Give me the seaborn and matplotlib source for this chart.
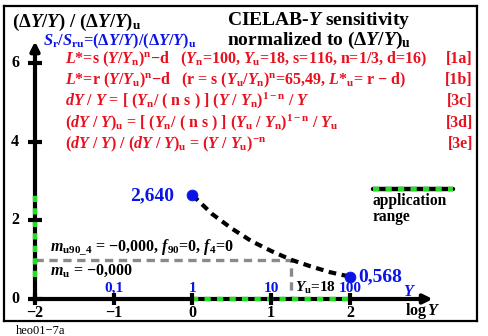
import numpy as np
import pandas as pd
import matplotlib
matplotlib.use("Agg")
import matplotlib.pyplot as plt
import seaborn as sns

# ---------------- data ----------------
x_ticks = [-2, -1, 0, 1, 2]
x_tick_labels = ["\u22122", "\u22121", "0", "1", "2"]
y_ticks = [0, 2, 4, 6]
y_tick_labels = ["0", "2", "4", "6"]
Y_pos = [-1, 0, 1, 2]
Y_labels = ["0,1", "1", "10", "100"]
curve_logY = [0.0, 0.25, 0.5, 0.75, 1.0, 1.25, 1.5, 1.75, 2.0]
curve_ratio = [2.640, 2.16, 1.79, 1.47, 1.22, 1.00, 0.83, 0.68, 0.568]
end_logY = [0, 2]
end_ratio = [2.640, 0.568]
end_labels = ["2,640", "0,568"]
Yu = 18
m_level = 1.0
app_range_x = [0, 2]

RED = "#e8101e"
BLUE = "#0a14e6"
GREEN = "#22e022"
GRAY = "#8a8a8a"

sns.set_theme(style="white")
plt.rcParams["font.family"] = ["Liberation Serif", "DejaVu Serif"]
plt.rcParams["font.weight"] = "bold"
plt.rcParams["mathtext.fontset"] = "custom"
plt.rcParams["mathtext.rm"] = "Liberation Serif:bold"
plt.rcParams["mathtext.it"] = "Liberation Serif:italic:bold"
plt.rcParams["mathtext.bf"] = "Liberation Serif:bold"
plt.rcParams["lines.scale_dashes"] = False

W, H = 489, 336
fig = plt.figure(figsize=(W / 100, H / 100), dpi=100)
L, R, T, B = 4, 477, 6, 321
ax = fig.add_axes([L / W, (H - B) / H, (R - L) / W, (B - T) / H])
x0px, xs = 192.5, 78.75
y0px, ys = 299, 39.33
ax.set_xlim((L - x0px) / xs, (R - x0px) / xs)
ax.set_ylim((y0px - B) / ys, (y0px - T) / ys)
ax.set_xticks([])
ax.set_yticks([])
for s in ax.spines.values():
    s.set_linewidth(1.6)
    s.set_color("black")


def px(x, y):
    return (x / W, 1 - y / H)


def ftext(x, y, s, **kw):
    kw.setdefault("va", "baseline")
    fig.text(*px(x, y), s, **kw)


# axes with arrows
ax.annotate("", xy=(-2, 6.55), xytext=(-2, 0), arrowprops=dict(arrowstyle="-|>", lw=3, color="black", mutation_scale=13, shrinkA=0, shrinkB=0))
ax.annotate("", xy=(3.05, 0), xytext=(-2.04, 0), arrowprops=dict(arrowstyle="-|>", lw=3, color="black", mutation_scale=13, shrinkA=0, shrinkB=0))
# tick marks
ax.plot([-2] * len(y_ticks), y_ticks, ls="none", marker="_", ms=10, mew=3, color="black", zorder=4)
ax.plot(x_ticks, [0] * len(x_ticks), ls="none", marker="|", ms=9, mew=3, color="black", zorder=4)

# application range (green/black dashes)
ax.plot(app_range_x, [0, 0], color=GREEN, lw=3.2, ls=(0, (4.5, 4.5)), solid_capstyle="butt", zorder=3.5)
ax.plot([-2, -2], [min(end_ratio), max(end_ratio)], color=GREEN, lw=3.2, ls=(0, (4.5, 4.5)), zorder=3.5)

# gray dashed level lines
logYu = np.log10(Yu)
ax.plot([-2, logYu, logYu], [m_level, m_level, 0.08], color=GRAY, lw=2.4, ls=(0, (6, 4)))

# curve
df = pd.DataFrame({"logY": curve_logY, "ratio": curve_ratio})
sns.lineplot(data=df, x="logY", y="ratio", ax=ax, color="black", lw=3, linestyle=(0, (5.5, 4)), legend=False)
dfe = pd.DataFrame({"logY": end_logY, "ratio": end_ratio})
sns.scatterplot(data=dfe, x="logY", y="ratio", ax=ax, color=BLUE, s=60, edgecolor=BLUE, zorder=5, legend=False)
ax.set_xlabel("")
ax.set_ylabel("")

# end labels
ax.annotate(end_labels[0], (end_logY[0], end_ratio[0]), xytext=(-18, -5), textcoords="offset pixels", ha="right", va="baseline", color=BLUE, fontsize=14)
ax.annotate(end_labels[1], (end_logY[1], end_ratio[1]), xytext=(8, -5), textcoords="offset pixels", ha="left", va="baseline", color=BLUE, fontsize=14)

# tick labels
for xt, lab in zip(x_ticks, x_tick_labels):
    ax.annotate(lab, (xt, 0), xytext=(0, -18), textcoords="offset pixels", ha="center", va="baseline", fontsize=11.5, color="black")
for yt, lab in zip(y_ticks, y_tick_labels):
    ax.annotate(lab, (-2, yt), xytext=(-20, 0), textcoords="offset pixels", ha="center", va="center", fontsize=11.5, color="black")
for xp, lab in zip(Y_pos, Y_labels):
    ax.annotate(lab, (xp, 0), xytext=(0, 7), textcoords="offset pixels", ha="center", va="baseline", fontsize=11, color=BLUE)
ax.annotate(r"$Y_\mathrm{u}$=18", (logYu, 0), xytext=(4, 7), textcoords="offset pixels", ha="left", va="baseline", fontsize=11, color="black")
ftext(410, 296, r"$Y$", ha="center", color=BLUE, fontsize=11.5)
ftext(405, 315, r"log$\,Y$", ha="left", color="black", fontsize=11.5)

# titles
ftext(12, 27, r"($\Delta Y/Y$) / ($\Delta Y/Y$)$_\mathrm{u}$", fontsize=13.6, color="black")
ftext(227, 25, r"CIELAB-$Y$ sensitivity", fontsize=14, color="black")
ftext(227, 45, r"normalized to ($\Delta Y/Y$)$_\mathrm{u}$", fontsize=14, color="black")
ftext(43, 45, r"$S_\mathrm{r}/S_\mathrm{ru}$=($\Delta Y/Y$)/($\Delta Y/Y$)$_\mathrm{u}$", fontsize=11.8, color=BLUE)

red_lines = [
    r"$L$*=s ($Y/Y_\mathrm{n})^\mathrm{n}$$-$d   ($Y_\mathrm{n}$=100, $Y_\mathrm{u}$=18, s=116, n=1/3, d=16)",
    r"$L$*=r ($Y/Y_\mathrm{u})^\mathrm{n}$$-$d   (r = s ($Y_\mathrm{u}/Y_\mathrm{n})^\mathrm{n}$=65,49, $L$*$_\mathrm{u}$= r $-$ d)",
    r"$dY$ / $Y$ = [ ($Y_\mathrm{n}$/ ( n s ) ] ($Y$ / $Y_\mathrm{n})^{1-\mathrm{n}}$ / $Y$",
    r"($dY$ / $Y$)$_\mathrm{u}$ = [ ($Y_\mathrm{n}$/ ( n s ) ] ($Y_\mathrm{u}$ / $Y_\mathrm{n})^{1-\mathrm{n}}$ / $Y_\mathrm{u}$",
    r"($dY$ / $Y$) / ($dY$ / $Y$)$_\mathrm{u}$ = ($Y$ / $Y_\mathrm{u})^{-\mathrm{n}}$",
]
red_tags = ["[1a]", "[1b]", "[3c]", "[3d]", "[3e]"]
red_base = [63, 84, 105, 127, 148]
for s, tg, yb in zip(red_lines, red_tags, red_base):
    ftext(65, yb, s, fontsize=11.5, color=RED)
    ftext(473, yb, tg, fontsize=11.5, color=RED, ha="right")

# m texts
ftext(50, 252, r"$m_\mathrm{u90\_4}$ = $-$0,000, $f_{90}$=0, $f_4$=0", fontsize=11.5, color="black")
ftext(50, 275, r"$m_\mathrm{u}$ = $-$0,000", fontsize=11.5, color="black")

# legend for application range
fig.add_artist(plt.Line2D([373 / W, 453 / W], [1 - 189 / H] * 2, color="black", lw=3.2, transform=fig.transFigure))
fig.add_artist(plt.Line2D([373 / W, 453 / W], [1 - 189 / H] * 2, color=GREEN, lw=3.2, ls=(0, (4.5, 4.5)), transform=fig.transFigure))
ftext(373, 205, "application", fontsize=11.2, color="black")
ftext(373, 221, "range", fontsize=11.2, color="black")

ftext(16, 334, "heo01\u22127a", fontsize=9, color="black", fontweight="normal")

fig.savefig("out.png", dpi=100)
